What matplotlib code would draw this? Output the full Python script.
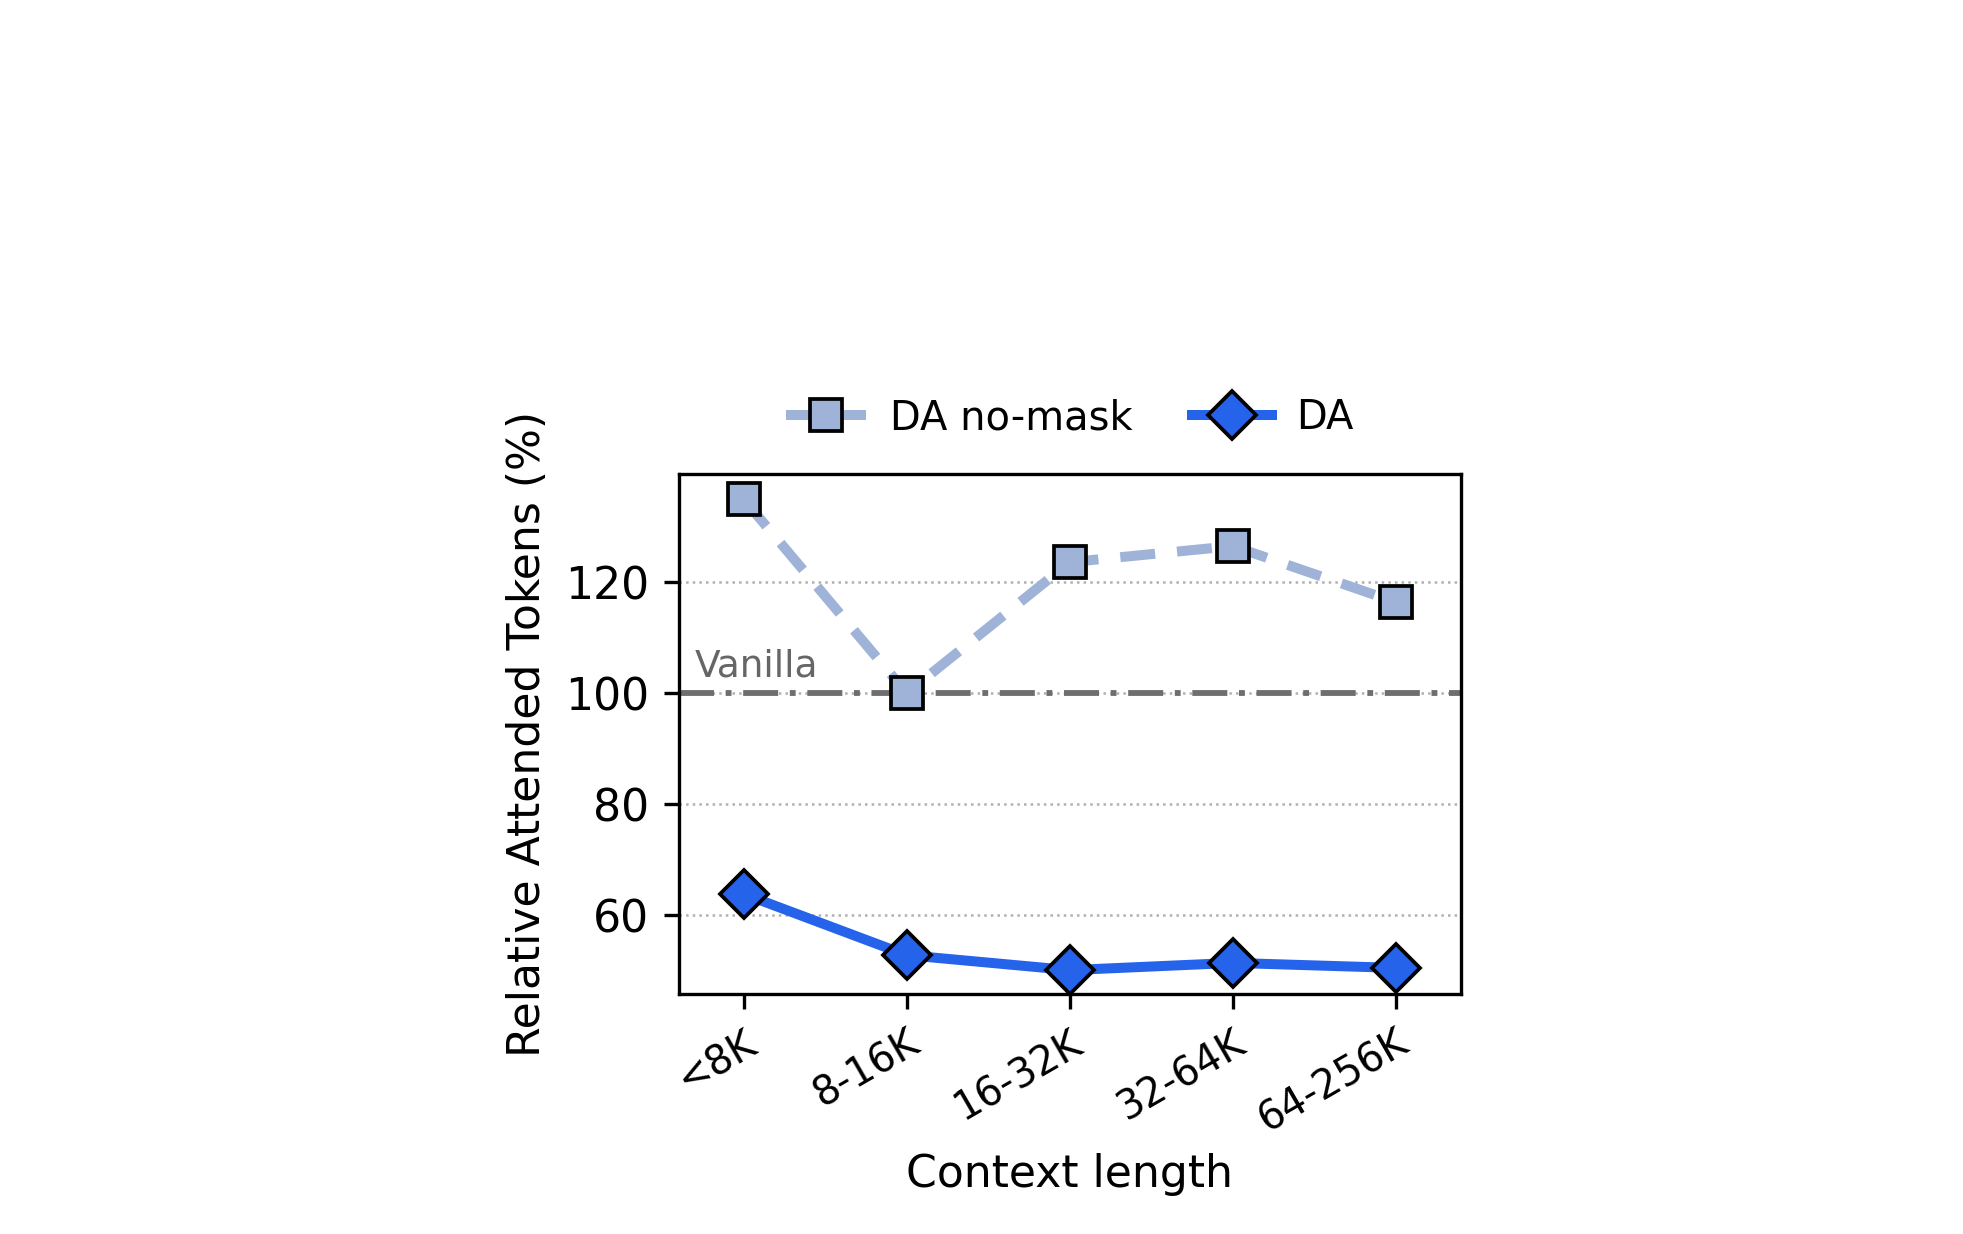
import matplotlib.pyplot as plt
import numpy as np

# context length buckets
contexts = ["<8K", "8-16K", "16-32K", "32-64K", "64-256K"]
nomask_vals = [134.9, 100.0, 123.6, 126.5, 116.4]
da_vals = [63.8, 52.8, 50.1, 51.4, 50.5]
vanilla = 100

fig = plt.figure(figsize=(1963 / 300, 1234 / 300), dpi=300)
ax = fig.add_axes([0.3457, 0.1945, 0.3986, 0.421])

x = np.arange(len(contexts))

ax.axhline(vanilla, color="#6e6e6e", ls=(0, (6, 2, 1, 2)), lw=1.4, zorder=1)
ax.text(-0.3, vanilla + 1.5, "Vanilla", color="#666666", fontsize=9, va="bottom")

ax.plot(x, nomask_vals, color="#9fb3d9", ls=(0, (3.5, 2.2)), lw=2.4, marker="s",
        ms=7.5, mfc="#9fb3d9", mec="black", mew=0.9, label="DA no-mask", zorder=3)
ax.plot(x, da_vals, color="#2563eb", ls="-", lw=2.4, marker="D",
        ms=8, mfc="#2563eb", mec="black", mew=0.9, label="DA", zorder=3)

ax.set_xlim(-0.4, 4.4)
ax.set_ylim(45.8, 139.4)
ax.set_yticks([60, 80, 100, 120])
ax.grid(axis="y", ls=":", color="#b0b0b0", lw=0.6)
ax.set_axisbelow(True)

ax.set_xticks(x)
ax.set_xticklabels(contexts, rotation=30, ha="right", fontsize=9.5,
                   rotation_mode="anchor")
ax.tick_params(axis="y", labelsize=10.6)
ax.set_xlabel("Context length", fontsize=10.6, labelpad=3)
ax.set_ylabel("Relative Attended Tokens (%)", fontsize=10.6)

ax.legend(loc="lower center", bbox_to_anchor=(0.5, 1.0), ncol=2,
          frameon=False, fontsize=9.6, handlelength=2.0, columnspacing=1.5,
          handletextpad=0.6)

fig.savefig("out.png", dpi=300)
